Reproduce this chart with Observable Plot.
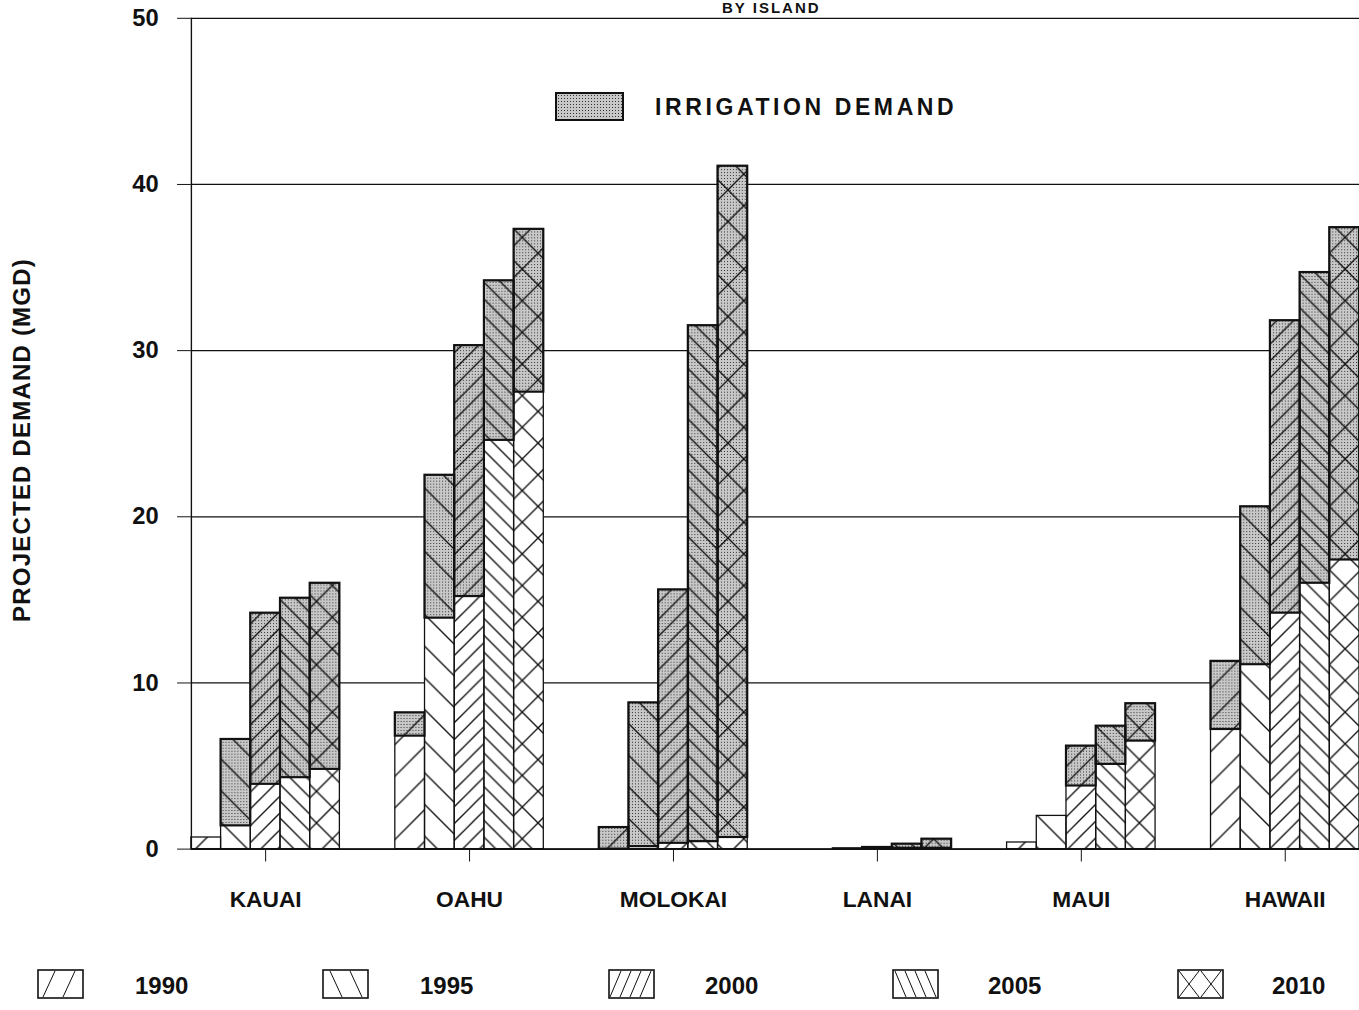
<!DOCTYPE html>
<html>
<head>
<meta charset="utf-8">
<script src="https://cdn.jsdelivr.net/npm/d3@7"></script>
<script src="https://cdn.jsdelivr.net/npm/@observablehq/plot@0.6"></script>
<style>
html, body { margin: 0; padding: 0; background: #fff; overflow: hidden; width: 1359px; height: 1010px; }
#wrap { position: relative; width: 1359px; height: 1010px; overflow: hidden;
  font-family: "Liberation Sans", Arial, sans-serif; font-weight: bold; color: #111; }
#chart { position: absolute; left: 0; top: 0; }
.abs { position: absolute; white-space: nowrap; }
#subtitle { left: 722px; top: 0px; font-size: 15px; line-height: 16px; letter-spacing: 2px; }
#ylabel { left: 22px; top: 440px; font-size: 24px; letter-spacing: 1.2px;
  transform: translate(-50%, -50%) rotate(-90deg); }
#irrText { left: 655px; top: 94px; font-size: 23px; letter-spacing: 3.6px; line-height: 26px; }
.legText { font-size: 24px; line-height: 28px; }
</style>
</head>
<body>
<div id="wrap">
  <div id="chart"></div>
  <div id="subtitle" class="abs">BY ISLAND</div>
  <div id="ylabel" class="abs">PROJECTED DEMAND (MGD)</div>
  <svg class="abs" style="left:555px;top:92px" width="70" height="30">
    <defs>
      <pattern id="stippleLeg" width="3" height="3" patternUnits="userSpaceOnUse">
        <rect width="3" height="3" fill="#c8c8c8"></rect><rect width="1" height="1" fill="#333"></rect>
      </pattern>
    </defs>
    <rect x="1" y="1" width="67" height="27" fill="url(#stippleLeg)" stroke="#111" stroke-width="2"></rect>
  </svg>
  <div id="irrText" class="abs">IRRIGATION DEMAND</div>
  <div id="legend"></div>
</div>
<script>
// ---- data, values in MGD ----
const islands = ["KAUAI", "OAHU", "MOLOKAI", "LANAI", "MAUI", "HAWAII"];
const years = ["1990", "1995", "2000", "2005", "2010"];
const yTicks = [0, 10, 20, 30, 40, 50];

// non-irrigation demand (white part of each bar), by year
const kauaiBase   = [0.7, 1.4, 3.9, 4.3, 4.8];
const oahuBase    = [6.8, 13.9, 15.2, 24.6, 27.5];
const molokaiBase = [0.0, 0.15, 0.35, 0.45, 0.7];
const lanaiBase   = [0.0, 0.05, 0.05, 0.05, 0.05];
const mauiBase    = [0.4, 2.0, 3.8, 5.1, 6.5];
const hawaiiBase  = [7.2, 11.1, 14.2, 16.0, 17.4];

// irrigation demand (shaded part stacked on top), by year
const kauaiIrrigation   = [0.0, 5.2, 10.3, 10.8, 11.2];
const oahuIrrigation    = [1.4, 8.6, 15.1, 9.6, 9.8];
const molokaiIrrigation = [1.3, 8.65, 15.25, 31.05, 40.4];
const lanaiIrrigation   = [0.0, 0.0, 0.05, 0.25, 0.55];
const mauiIrrigation    = [0.0, 0.0, 2.4, 2.3, 2.25];
const hawaiiIrrigation  = [4.1, 9.5, 17.6, 18.7, 20.0];

const baseByIsland = [kauaiBase, oahuBase, molokaiBase, lanaiBase, mauiBase, hawaiiBase];
const irrByIsland = [kauaiIrrigation, oahuIrrigation, molokaiIrrigation, lanaiIrrigation, mauiIrrigation, hawaiiIrrigation];

// ---- layout ----
const groupWidth = 150 / 206;          // fraction of an island slot used by its 5 bars
const barW = groupWidth / years.length;

const rows = islands.flatMap((island, i) => years.map((year, j) => ({
  island, year, i, j,
  base: baseByIsland[i][j],
  irr: irrByIsland[i][j]
})));
const irrRows = rows.filter(d => d.irr > 0);
const centers = islands.map((_, i) => i + groupWidth / 2);

const X1 = d => d.i + d.j * barW;
const X2 = d => d.i + (d.j + 1) * barW;

const fontFam = '"Liberation Sans", Arial, sans-serif';

const chart = Plot.plot({
  width: 1374,
  height: 930,
  marginLeft: 193,
  marginRight: 0,
  marginTop: 18,
  marginBottom: 72,
  style: { fontFamily: fontFam, fontWeight: "bold", color: "#111", background: "transparent" },
  x: { type: "linear", domain: [0, 5 + groupWidth] },
  y: { domain: [0, 50] },
  color: { type: "identity" },
  marks: [
    Plot.gridY(yTicks, { stroke: "#111", strokeOpacity: 1, strokeWidth: 1.2 }),
    Plot.rectY(rows, { x1: X1, x2: X2, y1: 0, y2: "base", fill: "white" }),
    Plot.rectY(irrRows, { x1: X1, x2: X2, y1: "base", y2: d => d.base + d.irr, fill: "url(#stipple)" }),
    Plot.rectY(rows, { x1: X1, x2: X2, y1: 0, y2: d => d.base + d.irr,
      fill: d => `url(#hatch${d.year})`, stroke: "#111", strokeWidth: 1.3 }),
    Plot.rectY(irrRows, { x1: X1, x2: X2, y1: "base", y2: d => d.base + d.irr,
      fill: "none", stroke: "#111", strokeWidth: 2.2 }),
    Plot.ruleX([0], { y1: 0, y2: 50, stroke: "#111", strokeWidth: 1.4 }),
    Plot.ruleY([0], { stroke: "#111", strokeWidth: 1.6 }),
    Plot.axisY(yTicks, { tickSize: 14, tickPadding: 19, fontSize: 24, label: null, stroke: "#111" }),
    Plot.axisX(centers, { tickSize: 13, tickPadding: 29, fontSize: 23, label: null, stroke: "#111",
      tickFormat: d => islands[Math.round(d - groupWidth / 2)] })
  ]
});

// patterns: stipple for irrigation, hatch per year
const svgNS = "http://www.w3.org/2000/svg";
const defs = document.createElementNS(svgNS, "defs");
function addPattern(id, size, inner) {
  const p = document.createElementNS(svgNS, "pattern");
  p.setAttribute("id", id);
  p.setAttribute("width", size);
  p.setAttribute("height", size);
  p.setAttribute("patternUnits", "userSpaceOnUse");
  p.innerHTML = inner;
  defs.appendChild(p);
}
addPattern("stipple", 3, '<rect width="3" height="3" fill="#c8c8c8"/><rect width="1" height="1" fill="#333"/>');
const fwd = P => `M0,${P} L${P},0 M${-P / 2},${P / 2} L${P / 2},${-P / 2} M${P / 2},${P * 1.5} L${P * 1.5},${P / 2}`;
const bwd = P => `M0,0 L${P},${P} M${-P / 2},${P / 2} L${P / 2},${P * 1.5} M${P / 2},${-P / 2} L${P * 1.5},${P / 2}`;
const hatchStyle = 'fill="none" stroke="#111" stroke-width="1.4"';
addPattern("hatch1990", 32, `<path d="${fwd(32)}" ${hatchStyle}/>`);
addPattern("hatch1995", 32, `<path d="${bwd(32)}" ${hatchStyle}/>`);
addPattern("hatch2000", 17, `<path d="${fwd(17)}" ${hatchStyle}/>`);
addPattern("hatch2005", 17, `<path d="${bwd(17)}" ${hatchStyle}/>`);
addPattern("hatch2010", 32, `<path d="${fwd(32)} ${bwd(32)}" ${hatchStyle}/>`);
chart.insertBefore(defs, chart.firstChild);
document.getElementById("chart").appendChild(chart);

// bottom legend (years)
const legendBoxLeft = [38, 323, 609, 893, 1178];
const legendTextLeft = [135, 420, 705, 988, 1272];
const swatchPaths = {
  "1990": "M6,28 L18,2 M26,28 L38,2",
  "1995": "M8,2 L20,28 M28,2 L40,28",
  "2000": "M2,28 L13,2 M12,28 L23,2 M22,28 L33,2 M32,28 L43,2",
  "2005": "M3,2 L14,28 M13,2 L24,28 M23,2 L34,28 M33,2 L44,28",
  "2010": "M2,2 L22,28 M2,28 L22,2 M24,2 L44,28 M24,28 L44,2"
};
const leg = document.getElementById("legend");
years.forEach((yr, k) => {
  const s = document.createElementNS(svgNS, "svg");
  s.setAttribute("class", "abs");
  s.setAttribute("width", 48);
  s.setAttribute("height", 31);
  s.style.left = (legendBoxLeft[k] - 1) + "px";
  s.style.top = "969px";
  s.innerHTML = `<rect x="1" y="1" width="45" height="28" fill="white" stroke="#111" stroke-width="1.6"/>` +
    `<path d="${swatchPaths[yr]}" fill="none" stroke="#111" stroke-width="1"/>`;
  leg.appendChild(s);
  const t = document.createElement("div");
  t.className = "abs legText";
  t.style.left = legendTextLeft[k] + "px";
  t.style.top = "972px";
  t.textContent = yr;
  leg.appendChild(t);
});
</script>
</body>
</html>
